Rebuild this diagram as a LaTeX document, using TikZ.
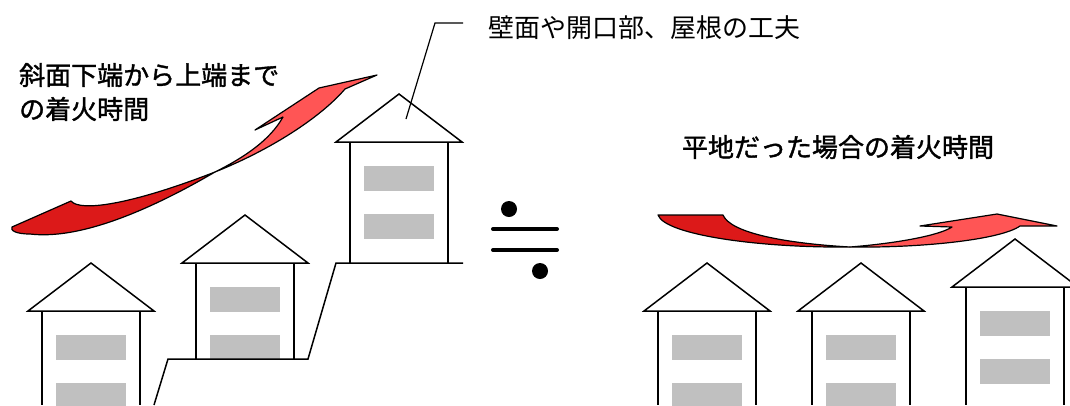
\documentclass[tikz,border=0pt]{standalone}
\usepackage{fontspec}
\newfontfamily\jpfont{Noto Sans CJK JP}
\newfontfamily\jpheavy{Noto Sans CJK JP}[FakeBold=1.4]

\definecolor{darkfire}{RGB}{220,25,25}
\definecolor{lightfire}{RGB}{255,85,85}
\definecolor{pane}{RGB}{192,192,192}

\begin{document}
\begin{tikzpicture}[x=1pt, y=-1pt,
    wall/.style={black, line width=1.5pt},
    fire/.style={draw=black, line width=1.2pt, line join=round},
    caption/.style={font=\jpheavy\fontsize{26}{34}\selectfont, inner sep=0pt},
    remark/.style={font=\jpfont\fontsize{26}{34}\selectfont, inner sep=0pt}]
    \useasboundingbox (0,0) rectangle (1070,405);
    \clip (0,0) rectangle (1070,405);

    % houses: apex x / roof base y / wall height
    \foreach \hx/\hy/\hh in {91/311/94, 245/263/96, 399/142/121,
                             707/311/94, 861/311/94, 1015/287/118}{
        \fill[pane] (\hx-35,\hy+24) rectangle (\hx+35,\hy+49);
        \fill[pane] (\hx-35,\hy+72) rectangle (\hx+35,\hy+97);
        \draw[wall] (\hx-63,\hy) -- (\hx,\hy-48) -- (\hx+63,\hy) -- cycle;
        \draw[wall] (\hx-49,\hy) -- (\hx-49,\hy+\hh);
        \draw[wall] (\hx+49,\hy) -- (\hx+49,\hy+\hh);
    }

    % stepped slope
    \draw[wall] (154,405) -- (168,359) -- (308,359) -- (336,263) -- (463,263);

    % spread up the slope
    \filldraw[fire, fill=darkfire] (12,227) -- (71,201)
        .. controls (80,212) and (130,205) .. (215,172)
        .. controls (150,210) and (80,240) .. (30,234)
        .. controls (15,234) and (10,230) .. (12,227) -- cycle;
    \filldraw[fire, fill=lightfire] (215,172)
        .. controls (245,157) and (270,140) .. (283,117)
        -- (255,130) -- (319,88) -- (377,75) -- (345,89)
        .. controls (320,118) and (270,150) .. (215,172) -- cycle;

    % spread on flat ground
    \filldraw[fire, fill=darkfire] (658,215) -- (723,215)
        .. controls (730,232) and (780,243) .. (850,247)
        .. controls (760,248) and (665,235) .. (658,215) -- cycle;
    \filldraw[fire, fill=lightfire] (850,247)
        .. controls (900,243) and (940,235) .. (952,227)
        -- (920,226) -- (997,214) -- (1057,226) -- (1020,226)
        .. controls (1000,240) and (920,248) .. (850,247) -- cycle;

    % nearly-equal sign
    \fill (509,209) circle (8pt);
    \draw[line width=4pt, line cap=round] (493,229) -- (557,229);
    \draw[line width=4pt, line cap=round] (493,250) -- (557,250);
    \fill (540,271) circle (8pt);

    \node[caption, align=left, anchor=west] (slope time) at (19,92) {斜面下端から上端まで\\の着火時間};
    \node[caption] (flat time) at (838,147) {平地だった場合の着火時間};
    \node[remark, anchor=west] (kufu) at (488,28) {壁面や開口部、屋根の工夫};

    % leader to the roof
    \coordinate (roof pt) at (406,119);
    \coordinate (bend) at (435,23);
    \coordinate (lead end) at (463,23);
    \draw[line width=1.2pt] (roof pt) -- (bend) -- (lead end);
\end{tikzpicture}
\end{document}
